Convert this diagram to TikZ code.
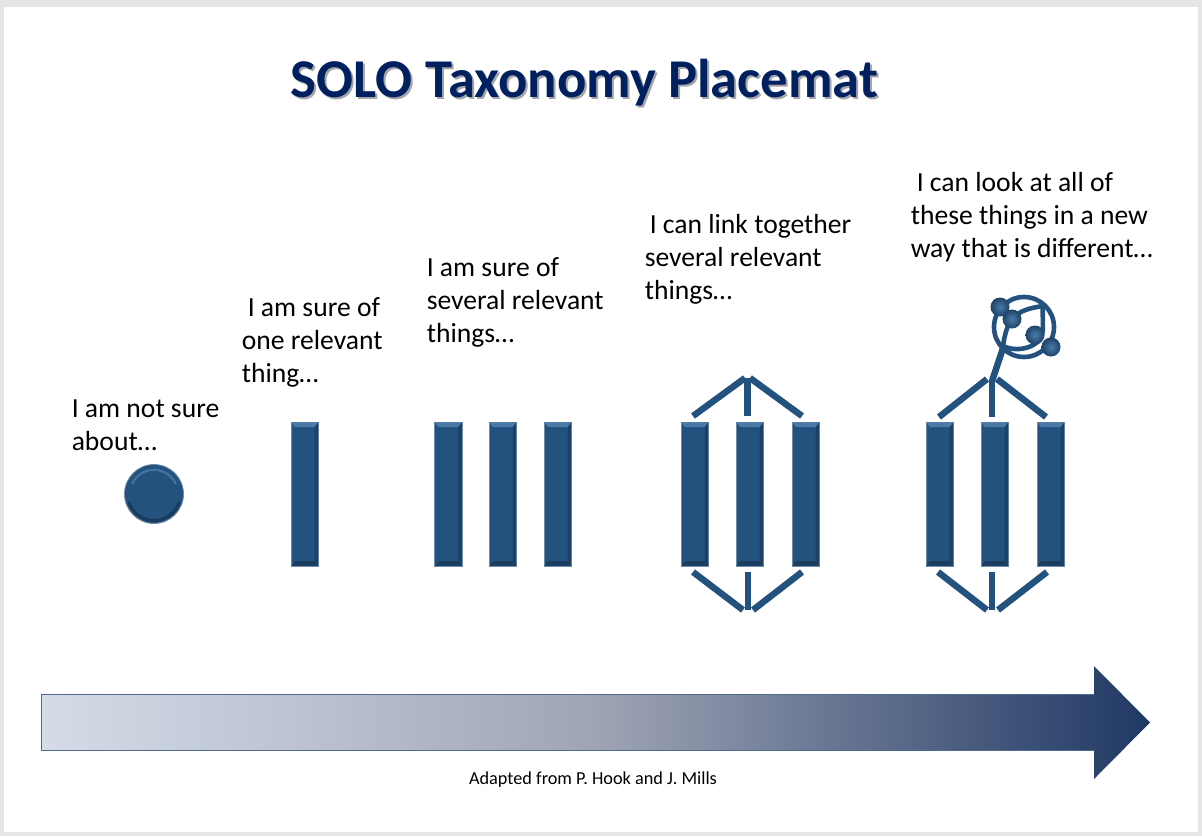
\documentclass[tikz,border=0pt]{standalone}
\usepackage{fontspec}
\setmainfont{Carlito}
\usetikzlibrary{shadings}
\newlength{\du}
\setlength{\du}{0.75pt}
\definecolor{solofill}{rgb}{0.141, 0.322, 0.498}
\definecolor{sololight}{rgb}{0.290, 0.478, 0.659}
\definecolor{solodark}{rgb}{0.102, 0.227, 0.353}
\definecolor{soloedge}{rgb}{0.431, 0.545, 0.659}
\definecolor{solotitle}{rgb}{0.000, 0.125, 0.376}
\definecolor{arrowleft}{rgb}{0.835, 0.863, 0.910}
\definecolor{arrowmid}{rgb}{0.625, 0.645, 0.710}
\definecolor{arrowright}{rgb}{0.122, 0.220, 0.392}
\tikzset{
  linkline/.style={draw=solofill, line width=6.5\du},
  ringline/.style={draw=solofill, line width=4.6\du},
  barbody/.style={draw=soloedge, line width=0.8\du, fill=solofill, inner sep=0pt,
    minimum width=27.5\du, minimum height=144\du},
  saying/.style={anchor=north west, align=left, inner sep=0pt, text=black,
    font=\fontsize{20.7}{24.75}\selectfont},
  atom/.style={shading=radial, inner color=sololight, outer color=solodark!60!solofill,
    circle, inner sep=0pt, minimum size=19\du},
  titletext/.style={font=\fontsize{41}{44}\selectfont\bfseries}
}
\newcommand{\solobar}[2]{
\begin{scope}[shift={(#2\du,422\du)}]
\node[barbody] (#1) at (13.75\du,72\du) {};
\fill[solodark!70!solofill] (27.1\du,0.4\du)--(27.1\du,143.6\du)--(23.5\du,139\du)--(23.5\du,5\du)--cycle;
\fill[solodark!85!solofill] (0.4\du,143.6\du)--(27.1\du,143.6\du)--(23.5\du,139\du)--(4\du,139\du)--cycle;
\fill[sololight] (0.4\du,0.4\du)--(27.1\du,0.4\du)--(23.5\du,5\du)--(4\du,5\du)--cycle;
\end{scope}
}
\newcommand{\softcopy}[1]{\rlap{\hspace{2\du}\raisebox{-2.5\du}{\color{black!35}#1}}#1}
\begin{document}
\begin{tikzpicture}
\pgftransformxscale{1.000000}
\pgftransformyscale{-1.000000}
\useasboundingbox (0\du,0\du) rectangle (1202\du,836\du);
\fill[black!10] (0\du,0\du) rectangle (1202\du,836\du);
\fill[white] (4\du,7\du) rectangle (1198\du,832\du);
% title
\node[text=solotitle, titletext] (title) at (584.5\du,83.5\du) {\softcopy{SOLO Taxonomy Placemat}};
% sayings
\node[saying] (sayone) at (71.5\du,400\du) {I am not sure\\about\dots};
\node[saying] (saytwo) at (241.5\du,297\du) {\hspace*{6\du}I am sure of\\one relevant\\thing\dots};
\node[saying] (saythree) at (426.5\du,257\du) {I am sure of\\several relevant\\things\dots};
\node[saying] (sayfour) at (644.5\du,214\du) {\hspace*{5\du}I can link together\\several relevant\\things\dots};
\node[saying] (sayfive) at (910.5\du,172\du) {\hspace*{6\du}I can look at all of\\these things in a new\\way that is different\dots};
% the dot
\node[circle, draw=soloedge, line width=0.8\du, fill=solofill, inner sep=0pt, minimum size=59\du] (dot) at (154\du,494\du) {};
\draw[solodark, line width=3\du] (128.8\du,502.2\du) arc (162:18:26.5\du);
\draw[sololight!80!solofill, line width=2.2\du] (132\du,484\du) arc (-156:-24:24\du);
% the bars
\foreach \barname/\barx in {barone/291,bartwoa/434.5,bartwob/489,bartwoc/544,
  barthreea/681,barthreeb/736,barthreec/792,barfoura/926,barfourb/981,barfourc/1037}
  {\solobar{\barname}{\barx}}
% the links
\foreach \linkname/\xa/\ya/\xb/\yb in {
  lka/693/416/745/378, lkb/747.5/416/747.5/378, lkc/802/416/750/378,
  lkd/693/572/743/610, lke/748/572/748/610, lkf/802/572/753/610,
  lkg/939/417/987/379, lkh/992/417/992/380, lki/1046/417/997/379,
  lkj/938/572/987/610, lkk/992/572/992/610, lkl/1047/572/998/610,
  lkm/992/381/1003/348}
  {\coordinate (\linkname a) at (\xa\du,\ya\du);
   \coordinate (\linkname b) at (\xb\du,\yb\du);
   \draw[linkline] (\linkname a)--(\linkname b);}
% the ring
\node[circle, ringline, inner sep=0pt, minimum size=60\du] (ring) at (1024\du,327\du) {};
\coordinate (lensa) at (1003\du,346\du);
\coordinate (lensb) at (1043\du,306\du);
\draw[ringline] (lensa) .. controls (1007\du,318\du) and (1015\du,310\du) .. (lensb);
\draw[ringline] (lensa) .. controls (1020\du,354\du) and (1040\du,345\du) .. (1042\du,335\du)
  .. controls (1044\du,325\du) and (1042\du,315\du) .. (lensb);
\node[atom] (atoma) at (1000\du,307\du) {};
\node[atom] (atomb) at (1012\du,319\du) {};
\node[atom] (atomc) at (1035\du,335\du) {};
\node[atom] (atomd) at (1051\du,347\du) {};
% the big arrow
\shade[left color=arrowleft, right color=arrowright, middle color=arrowmid, draw=none]
  (41\du,694\du)--(1094\du,694\du)--(1094\du,666\du)--(1150\du,722.5\du)--(1094\du,779\du)--(1094\du,750\du)--(41\du,750\du)--cycle;
\draw[soloedge!60!arrowright, line width=0.9\du] (1094\du,694\du)--(41\du,694\du)--(41\du,750\du)--(1094\du,750\du);
\node[text=black, font=\fontsize{13.7}{16}\selectfont] (credit) at (593\du,780\du) {Adapted from P. Hook and J. Mills};
\end{tikzpicture}
\end{document}
